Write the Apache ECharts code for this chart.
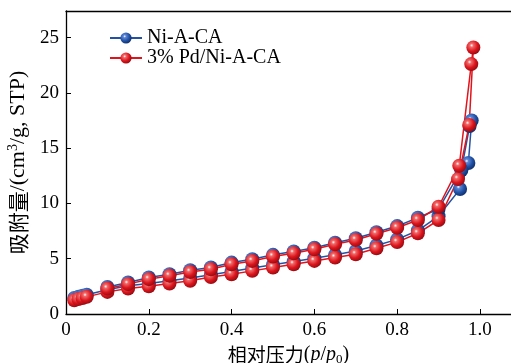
<!DOCTYPE html>
<html>
<head>
<meta charset="utf-8">
<script src="https://cdn.jsdelivr.net/npm/echarts@6/dist/echarts.min.js"></script>
<style>
  html, body { margin: 0; padding: 0; background: #fff; }
  #chart { width: 511px; height: 363px; }
</style>
</head>
<body>
<div id="chart"></div>
<script>
const serif = "'Liberation Serif', 'Times New Roman', serif";
const cjk = "'Noto Sans CJK SC', sans-serif";

const nombres = ["Ni-A-CA", "3% Pd/Ni-A-CA"];

// Ni-A-CA: rama de adsorción y luego desorción (p/p0, cm3/g)
const presionNi = [0.02, 0.03, 0.04, 0.05, 0.1, 0.15, 0.2, 0.25, 0.3, 0.35, 0.4, 0.45, 0.5, 0.55, 0.6, 0.65, 0.7, 0.75, 0.8, 0.85, 0.9, 0.952, 0.972, 0.98,
  0.975, 0.955, 0.9, 0.85, 0.8, 0.75, 0.7, 0.65, 0.6, 0.55, 0.5, 0.45, 0.4, 0.35, 0.3, 0.25, 0.2, 0.15, 0.1];
const volumenNi = [1.45, 1.55, 1.65, 1.75, 2.2, 2.55, 2.75, 3.0, 3.25, 3.55, 3.85, 4.15, 4.45, 4.75, 5.05, 5.35, 5.7, 6.2, 6.75, 7.55, 8.85, 11.3, 13.65, 17.5,
  17.0, 13.0, 9.5, 8.7, 7.95, 7.4, 6.85, 6.45, 6.0, 5.65, 5.35, 4.95, 4.65, 4.2, 3.95, 3.6, 3.3, 2.85, 2.45];

// 3% Pd/Ni-A-CA
const presionPd = [0.02, 0.03, 0.04, 0.05, 0.1, 0.15, 0.2, 0.25, 0.3, 0.35, 0.4, 0.45, 0.5, 0.55, 0.6, 0.65, 0.7, 0.75, 0.8, 0.85, 0.9, 0.947, 0.974, 0.984,
  0.979, 0.95, 0.9, 0.85, 0.8, 0.75, 0.7, 0.65, 0.6, 0.55, 0.5, 0.45, 0.4, 0.35, 0.3, 0.25, 0.2, 0.15, 0.1];
const volumenPd = [1.25, 1.35, 1.45, 1.55, 2.0, 2.3, 2.5, 2.75, 3.0, 3.35, 3.6, 3.9, 4.2, 4.5, 4.8, 5.1, 5.4, 5.95, 6.5, 7.3, 8.5, 12.2, 17.1, 24.1,
  22.6, 13.4, 9.7, 8.5, 7.8, 7.25, 6.7, 6.3, 5.85, 5.5, 5.2, 4.8, 4.5, 4.05, 3.8, 3.45, 3.15, 2.7, 2.3];

function esfera(claro, base, oscuro) {
  return {
    type: "radial", x: 0.38, y: 0.35, r: 0.7,
    colorStops: [
      { offset: 0, color: "#ffffff" },
      { offset: 0.18, color: claro },
      { offset: 0.6, color: base },
      { offset: 1, color: oscuro },
    ],
  };
}

function serie(nombre, xs, ys, linea, relleno) {
  return {
    name: nombre,
    type: "line",
    data: xs.map((x, i) => [x, ys[i]]),
    symbol: "circle",
    symbolSize: 14,
    lineStyle: { color: linea, width: 1.5 },
    itemStyle: { color: relleno, borderWidth: 0 },
    emphasis: { disabled: true },
  };
}

const chart = echarts.init(document.getElementById("chart"));
chart.setOption({
  animation: false,
  grid: { left: 66, right: 0, top: 11, bottom: 49, outerBoundsMode: "none", containLabel: false },
  legend: {
    orient: "vertical",
    left: 104,
    top: 23,
    itemWidth: 32,
    itemHeight: 14,
    itemGap: 0,
    textStyle: { fontFamily: serif, fontSize: 20, color: "#000" },
    data: nombres,
  },
  xAxis: [
    {
      type: "value",
      min: 0,
      max: 1.075,
      interval: 0.2,
      axisLine: { lineStyle: { color: "#000", width: 1.3 } },
      axisTick: { inside: true, length: 5, lineStyle: { color: "#000" } },
      axisLabel: {
        fontFamily: serif, fontSize: 19, color: "#000", margin: 7, showMaxLabel: false,
        formatter: (v) => (v === 0 ? "0" : v.toFixed(1)),
      },
      splitLine: { show: false },
      name: "{cn|相对压力}{en|(}{it|p}{en|/}{it|p}{sub|0}{en|)}",
      nameLocation: "middle",
      nameGap: 23,
      nameTextStyle: {
        rich: {
          cn: { fontFamily: cjk, fontSize: 19, color: "#000" },
          en: { fontFamily: serif, fontSize: 20, color: "#000" },
          it: { fontFamily: serif, fontSize: 20, fontStyle: "italic", color: "#000" },
          sub: { fontFamily: serif, fontSize: 13, color: "#000", padding: [9, 0, 0, 0] },
        },
      },
    },
    {
      type: "value",
      position: "top",
      min: 0,
      max: 1.075,
      axisLine: { show: true, lineStyle: { color: "#000", width: 1.3 } },
      axisTick: { show: false },
      axisLabel: { show: false },
      splitLine: { show: false },
    },
  ],
  yAxis: {
    type: "value",
    min: 0,
    max: 27.4,
    interval: 5,
    axisLine: { show: true, lineStyle: { color: "#000", width: 1.3 } },
    axisTick: { show: true, inside: true, length: 5, lineStyle: { color: "#000" } },
    axisLabel: { fontFamily: serif, fontSize: 19, color: "#000", margin: 7, showMaxLabel: false },
    splitLine: { show: false },
    name: "{cn|吸附量}{en|/(cm}{sup|3}{en|/g, STP)}",
    nameLocation: "middle",
    nameGap: 32,
    nameTextStyle: {
      rich: {
        cn: { fontFamily: cjk, fontSize: 21, color: "#000" },
        en: { fontFamily: serif, fontSize: 22, color: "#000" },
        sup: { fontFamily: serif, fontSize: 14, color: "#000", padding: [0, 0, 10, 0] },
      },
    },
  },
  series: [
    serie(nombres[0], presionNi, volumenNi, "#2452a3", esfera("#5d86d6", "#2050a4", "#0f2b66")),
    serie(nombres[1], presionPd, volumenPd, "#e0141c", esfera("#f06a6a", "#dc141c", "#8e0a10")),
  ],
});
</script>
</body>
</html>
